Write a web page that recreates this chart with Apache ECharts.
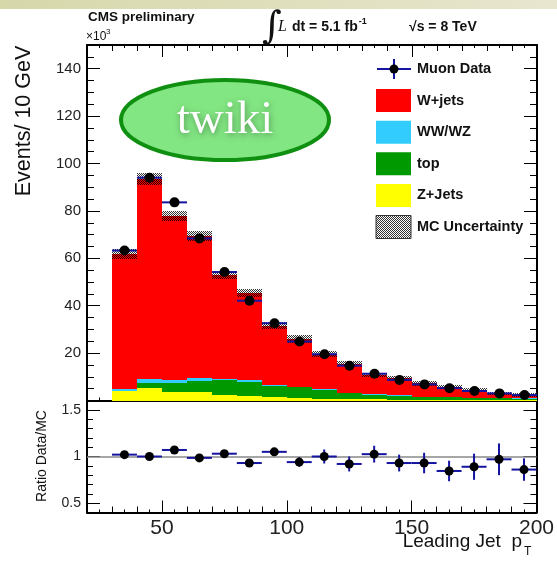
<!DOCTYPE html>
<html>
<head>
<meta charset="utf-8">
<script src="https://cdn.jsdelivr.net/npm/echarts@6/dist/echarts.min.js"></script>
<style>
  html, body { margin: 0; padding: 0; background: #fff; }
  #chart { width: 557px; height: 561px; }
</style>
</head>
<body>
<div id="chart"></div>
<script>
// leading jet pT bins (GeV), 10 GeV wide
const binLow = [30, 40, 50, 60, 70, 80, 90, 100, 110, 120, 130, 140, 150, 160, 170, 180, 190];
const binWidth = 10;

// MC stack, events x10^3 per bin
const zJets    = [3.8, 5.4, 3.7, 3.4, 2.3, 1.8, 1.3, 1.0, 0.8, 0.6, 0.5, 0.3, 0.2, 0.2, 0.1, 0.1, 0.1];
const topQuark = [0.3, 2.1, 3.7, 5.0, 6.4, 6.2, 5.0, 4.6, 3.8, 2.4, 2.0, 1.7, 1.3, 1.1, 1.0, 0.8, 0.7];
const diboson  = [0.7, 1.6, 1.4, 1.3, 0.5, 0.5, 0.4, 0.3, 0.2, 0.2, 0.15, 0.15, 0.1, 0.1, 0.1, 0.1, 0.05];
const wJets    = [57.1, 84.5, 69.1, 59.9, 43.9, 36.8, 24.9, 20.1, 14.7, 12.4, 8.15, 7.25, 5.7, 4.3, 3.1, 2.0, 1.65];
const mcUnc    = [2.05, 2.5, 2.25, 2.1, 1.75, 1.8, 1.5, 1.55, 1.2, 1.2, 1.0, 1.05, 1.0, 0.9, 0.85, 0.7, 0.85];

// muon data, events x10^3
const muonData = [63.3, 94.0, 83.6, 68.4, 54.2, 42.1, 32.6, 24.9, 19.5, 14.7, 11.3, 8.7, 6.8, 5.2, 4.0, 3.0, 2.3];

// ratio panel
const ratio    = [1.02, 1.00, 1.07, 0.985, 1.03, 0.93, 1.05, 0.94, 1.00, 0.92, 1.025, 0.93, 0.93, 0.845, 0.89, 0.97, 0.86];
const ratioErr = [0.012, 0.012, 0.014, 0.015, 0.02, 0.025, 0.04, 0.05, 0.075, 0.08, 0.09, 0.09, 0.11, 0.11, 0.14, 0.17, 0.12];

const xTickLabels = [50, 100, 150, 200];
const ratioTickLabels = [0.5, 1, 1.5];

const FONT = '"Liberation Sans", Arial, Helvetica, sans-serif';
const ERR_BLUE = '#1414a0';

const stackDefs = [
  { name: 'Z+Jets', values: zJets, color: '#ffff00' },
  { name: 'top', values: topQuark, color: '#009900' },
  { name: 'WW/WZ', values: diboson, color: '#33ccff' },
  { name: 'W+jets', values: wJets, color: '#ff0000' },
];

// checker pattern used for the MC uncertainty band
const hatch = document.createElement('canvas');
hatch.width = 2;
hatch.height = 2;
const hctx = hatch.getContext('2d');
hctx.fillStyle = 'rgba(0,0,0,0.8)';
hctx.fillRect(0, 0, 1, 1);
hctx.fillRect(1, 1, 1, 1);
const hatchFill = { image: hatch, repeat: 'repeat' };

// text width helper for chaining header pieces
const measureCtx = document.createElement('canvas').getContext('2d');
function textWidth(text, font) {
  measureCtx.font = font;
  return measureCtx.measureText(text).width;
}

// build stacked [lo, hi, base, top]
const base = binLow.map(() => 0);
const stackData = stackDefs.map((s) =>
  s.values.map((v, i) => {
    const b = base[i];
    base[i] = b + v;
    return [binLow[i], binLow[i] + binWidth, b, b + v];
  })
);
const mcTotal = base.slice();
const bandData = mcTotal.map((t, i) => [binLow[i], binLow[i] + binWidth, t - mcUnc[i], t + mcUnc[i]]);

function rectRender(fill) {
  return function (params, api) {
    const a = api.coord([api.value(0), api.value(3)]);
    const b = api.coord([api.value(1), api.value(2)]);
    const x0 = Math.round(a[0]), x1 = Math.round(b[0]);
    const y0 = Math.round(a[1]), y1 = Math.round(b[1]);
    return {
      type: 'rect',
      shape: { x: x0, y: y0, width: x1 - x0, height: y1 - y0 },
      style: { fill: fill },
    };
  };
}

function errRender(params, api) {
  const lo = api.value(0), hi = api.value(1), v = api.value(2), e = api.value(3);
  const p0 = api.coord([lo, v]);
  const p1 = api.coord([hi, v]);
  const children = [{
    type: 'line',
    shape: { x1: p0[0], y1: p0[1], x2: p1[0], y2: p1[1] },
    style: { stroke: ERR_BLUE, lineWidth: 2 },
  }];
  if (e > 0) {
    const c0 = api.coord([(lo + hi) / 2, v - e]);
    const c1 = api.coord([(lo + hi) / 2, v + e]);
    children.push({
      type: 'line',
      shape: { x1: c0[0], y1: c0[1], x2: c1[0], y2: c1[1] },
      style: { stroke: ERR_BLUE, lineWidth: 2 },
    });
  }
  return { type: 'group', children: children };
}

const tickLine = { color: '#000', width: 1 };

function xAx(grid, pos, extra) {
  return Object.assign({
    type: 'value', gridIndex: grid, position: pos, min: 20, max: 200, interval: 10,
    axisLine: { show: true, onZero: false, lineStyle: { color: '#000', width: 2 } },
    axisTick: { show: true, inside: true, length: 6, lineStyle: tickLine },
    minorTick: { show: true, splitNumber: 2, length: 3, lineStyle: tickLine },
    axisLabel: { show: false },
    splitLine: { show: false },
  }, extra || {});
}
function xMajor(grid, pos) {
  return {
    type: 'value', gridIndex: grid, position: pos, min: 20, max: 200,
    axisLine: { show: false, onZero: false },
    axisTick: { show: true, inside: true, length: 12, lineStyle: tickLine, customValues: xTickLabels },
    axisLabel: { show: false },
    splitLine: { show: false },
  };
}
function yTop(pos, showLabels) {
  return {
    type: 'value', gridIndex: 0, position: pos, min: 0, max: 150, interval: 20,
    axisLine: { show: true, onZero: false, lineStyle: { color: '#000', width: 2 } },
    axisTick: { show: true, inside: true, length: 13, lineStyle: tickLine },
    minorTick: { show: true, splitNumber: 4, length: 7, lineStyle: tickLine },
    axisLabel: {
      show: showLabels, margin: 6, fontSize: 15, color: '#222', fontFamily: FONT,
      formatter: (v) => (v > 0 && v < 150 && v % 20 === 0 ? String(v) : ''),
    },
    splitLine: { show: false },
  };
}
function yRatio(pos, showLabels) {
  return {
    type: 'value', gridIndex: 1, position: pos, min: 0.4, max: 1.6, interval: 0.1,
    axisLine: { show: true, onZero: false, lineStyle: { color: '#000', width: 2 } },
    axisTick: { show: true, inside: true, length: 6, lineStyle: tickLine },
    axisLabel: {
      show: showLabels, margin: 6, fontSize: 14, color: '#222', fontFamily: FONT,
      formatter: (v) => {
        const r = Math.round(v * 10) / 10;
        return ratioTickLabels.indexOf(r) >= 0 ? String(r) : '';
      },
    },
    splitLine: { show: false },
  };
}
function yRatioMajor(pos) {
  return {
    type: 'value', gridIndex: 1, position: pos, min: 0.4, max: 1.6,
    axisLine: { show: false, onZero: false },
    axisTick: { show: true, inside: true, length: 13, lineStyle: tickLine, customValues: ratioTickLabels },
    axisLabel: { show: false },
    splitLine: { show: false },
  };
}

const series = [];
stackDefs.forEach((s, k) => {
  series.push({
    name: s.name, type: 'custom', xAxisIndex: 0, yAxisIndex: 0,
    renderItem: rectRender(s.color), data: stackData[k],
    encode: { x: [0, 1], y: [2, 3] }, silent: true, z: 2,
  });
});
series.push({
  name: 'MC Uncertainty', type: 'custom', xAxisIndex: 0, yAxisIndex: 0,
  renderItem: rectRender(hatchFill), data: bandData,
  encode: { x: [0, 1], y: [2, 3] }, silent: true, z: 3,
});
series.push({
  name: 'Muon Data err', type: 'custom', xAxisIndex: 0, yAxisIndex: 0,
  renderItem: errRender,
  data: muonData.map((v, i) => [binLow[i], binLow[i] + binWidth, v, 0]),
  encode: { x: [0, 1], y: 2 }, silent: true, z: 4,
});
series.push({
  name: 'Muon Data', type: 'scatter', xAxisIndex: 0, yAxisIndex: 0,
  data: muonData.map((v, i) => [binLow[i] + binWidth / 2, v]),
  symbolSize: 10, itemStyle: { color: '#000', opacity: 1 }, silent: true, z: 5,
});
series.push({
  name: 'Ratio err', type: 'custom', xAxisIndex: 4, yAxisIndex: 2,
  renderItem: errRender,
  data: ratio.map((v, i) => [binLow[i], binLow[i] + binWidth, v, ratioErr[i]]),
  encode: { x: [0, 1], y: 2 }, silent: true, z: 4,
});
series.push({
  name: 'Ratio', type: 'scatter', xAxisIndex: 4, yAxisIndex: 2,
  data: ratio.map((v, i) => [binLow[i] + binWidth / 2, v]),
  symbolSize: 9, itemStyle: { color: '#000', opacity: 1 }, silent: true, z: 5,
  markLine: {
    silent: true, symbol: 'none', label: { show: false },
    lineStyle: { color: '#888', width: 1.5, type: 'solid' },
    data: [{ yAxis: 1 }],
    z: 1,
  },
});

// legend, drawn as graphics
const legendRows = [
  { name: 'Muon Data', kind: 'data' },
  { name: 'W+jets', color: '#ff0000' },
  { name: 'WW/WZ', color: '#33ccff' },
  { name: 'top', color: '#009900' },
  { name: 'Z+Jets', color: '#ffff00' },
  { name: 'MC Uncertainty', kind: 'band' },
];
const legendGraphics = [];
legendRows.forEach((row, i) => {
  const cy = 69 + i * 31.6;
  if (row.kind === 'data') {
    legendGraphics.push(
      { type: 'line', shape: { x1: 377, y1: cy, x2: 411, y2: cy }, style: { stroke: ERR_BLUE, lineWidth: 2 }, z: 100 },
      { type: 'line', shape: { x1: 394, y1: cy - 10, x2: 394, y2: cy + 10 }, style: { stroke: ERR_BLUE, lineWidth: 2 }, z: 100 },
      { type: 'circle', shape: { cx: 394, cy: cy, r: 4.5 }, style: { fill: '#000' }, z: 101 }
    );
  } else {
    legendGraphics.push({
      type: 'rect', shape: { x: 376, y: cy - 11.5, width: 35, height: 23 },
      style: row.kind === 'band'
        ? { fill: hatchFill, stroke: '#333', lineWidth: 1 }
        : { fill: row.color },
      z: 100,
    });
  }
  legendGraphics.push({
    type: 'text', x: 417, y: cy, z: 100,
    style: { text: row.name, font: 'bold 14.5px ' + FONT, fill: '#111', align: 'left', verticalAlign: 'middle' },
  });
});

function txt(x, y, text, font, extra) {
  return {
    type: 'text', x: x, y: y, z: 100,
    style: Object.assign({ text: text, font: font, fill: '#111', align: 'left', verticalAlign: 'middle' }, extra || {}),
  };
}

const lumiFont = 'bold 14px ' + FONT;
const lumiText = 'dt = 5.1 fb';
const lumiEnd = 292 + textWidth(lumiText, lumiFont);

const graphics = [
  {
    type: 'rect', shape: { x: 0, y: 0, width: 557, height: 9 }, z: 100,
    style: {
      fill: new echarts.graphic.LinearGradient(0, 0, 1, 0, [
        { offset: 0, color: '#d6d8aa' }, { offset: 1, color: '#e8e6cf' },
      ]),
    },
  },
  txt(88, 17, 'CMS preliminary', 'bold 13.5px ' + FONT),
  txt(86, 37, '\u00d710', '12px ' + FONT),
  txt(106, 32, '3', '8px ' + FONT),
  txt(262, 28, '\u222b', '38px "DejaVu Serif", serif'),
  txt(278, 27, 'L', 'italic 16px "Liberation Serif", serif'),
  txt(292, 27, lumiText, lumiFont),
  txt(lumiEnd + 1, 22, '-1', 'bold 9px ' + FONT),
  txt(409, 27, '\u221as = 8 TeV', 'bold 14px ' + FONT),
  {
    type: 'text', x: 24, y: 121, rotation: Math.PI / 2, z: 100,
    style: { text: 'Events/ 10 GeV', font: '21.5px ' + FONT, fill: '#111', align: 'center', verticalAlign: 'middle' },
  },
  {
    type: 'text', x: 42, y: 456, rotation: Math.PI / 2, z: 100,
    style: { text: 'Ratio Data/MC', font: '14px ' + FONT, fill: '#111', align: 'center', verticalAlign: 'middle' },
  },
  txt(522, 542, 'Leading Jet  p', '19px ' + FONT, { align: 'right' }),
  txt(524, 552, 'T', '12px ' + FONT),
  {
    type: 'ellipse', shape: { cx: 225, cy: 120, rx: 104, ry: 40 }, z: 100,
    style: { fill: '#82e682', stroke: '#109010', lineWidth: 4 },
  },
  {
    type: 'text', x: 225, y: 121, z: 101,
    style: {
      text: 'twiki', font: '47px "Liberation Serif", serif', fill: '#ffffff',
      align: 'center', verticalAlign: 'middle',
      textShadowColor: 'rgba(0,0,0,0.35)', textShadowBlur: 6, textShadowOffsetX: 1, textShadowOffsetY: 2,
    },
  },
].concat(legendGraphics);

const option = {
  animation: false,
  backgroundColor: '#fff',
  textStyle: { fontFamily: FONT },
  grid: [
    { left: 87, top: 45, width: 450, height: 355.5 },
    { left: 87, top: 400.5, width: 450, height: 112 },
  ],
  xAxis: [
    xAx(0, 'bottom'),
    xAx(0, 'top'),
    xMajor(0, 'bottom'),
    xMajor(0, 'top'),
    xAx(1, 'bottom', {
      axisLabel: {
        show: true, margin: 5, fontSize: 21, color: '#222', fontFamily: FONT,
        showMaxLabel: true,
        formatter: (v) => (xTickLabels.indexOf(v) >= 0 ? String(v) : ''),
      },
    }),
    xMajor(1, 'bottom'),
  ],
  yAxis: [
    yTop('left', true),
    yTop('right', false),
    yRatio('left', true),
    yRatio('right', false),
    yRatioMajor('left'),
    yRatioMajor('right'),
  ],
  series: series,
  graphic: graphics,
};

const chart = echarts.init(document.getElementById('chart'));
chart.setOption(option);
</script>
</body>
</html>
